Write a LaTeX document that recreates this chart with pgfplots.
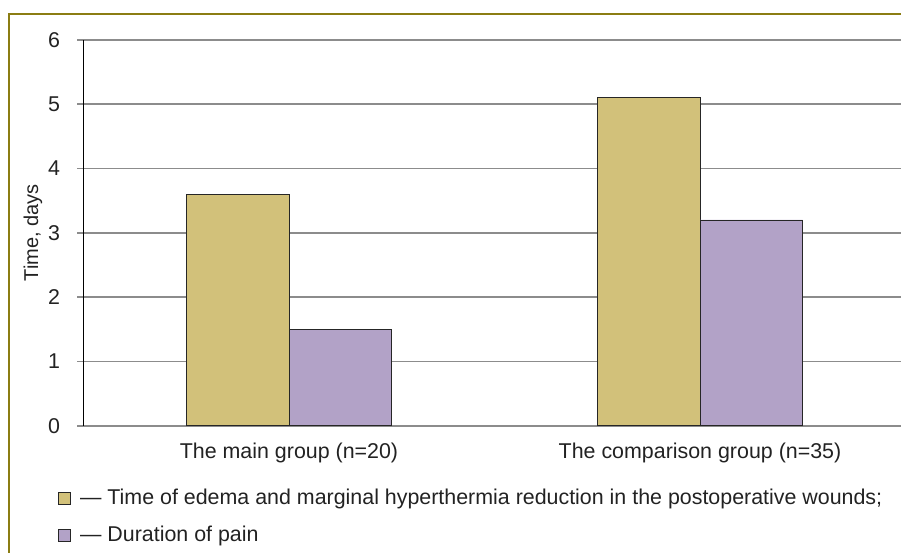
\documentclass[border=0pt]{standalone}
\usepackage{pgfplots}
\pgfplotsset{compat=1.18}
\usepackage{fontspec}
\setmainfont{Liberation Sans}
\definecolor{framec}{HTML}{8B7D13}
\definecolor{barA}{HTML}{D2C17A}
\definecolor{barB}{HTML}{B2A2C7}
\definecolor{gridc}{HTML}{8C8C8C}
\definecolor{txt}{HTML}{222222}
\begin{document}
\begin{tikzpicture}[x=1pt,y=1pt]
\path[use as bounding box] (-83.5,425.7) rectangle (817.5,-126.3);
\clip (-83.5,425.7) rectangle (817.5,-126.3);
\draw[framec, line width=2.5pt] (-74.5,411.7) rectangle (1000,-300);
\begin{axis}[
  scale only axis, width=822pt, height=385.7pt,
  xmin=-0.5, xmax=1.5, ymin=0, ymax=6,
  ybar=0pt, bar width=102.5pt,
  axis x line*=bottom, axis y line*=left,
  x axis line style={draw=gridc, line width=1.8pt, -},
  y axis line style={draw=black, line width=0.9pt, -},
  xtick={0,1},
  xticklabels={The main group (n=20), The comparison group (n=35)},
  major x tick style={draw=none},
  extra x ticks={-0.5,0.5},
  extra x tick labels={},
  extra x tick style={major tick length=6pt, tick align=outside, tick style={draw=gridc, line width=1.8pt}, grid=none},
  ytick={0,1,2,3,4,5,6},
  ymajorgrids,
  grid style={draw=gridc, line width=1.8pt},
  major y tick style={draw=gridc, line width=1.8pt},
  tick align=outside, major tick length=6pt,
  tick label style={font=\fontsize{21.4}{25}\selectfont, text=txt},
  /pgf/number format/assume math mode=true,
  yticklabel style={xshift=-14pt},
  xticklabel style={yshift=-8pt},
  ylabel={Time, days},
  ylabel style={at={(axis description cs:-0.0614,0.5)}, anchor=center, font=\fontsize{20}{24}\selectfont, text=txt},
  legend style={at={(axis description cs:-0.031,-0.163)}, anchor=north west, draw=none, fill=none,
    font=\fontsize{21.4}{25}\selectfont, text=txt, row sep=17pt, inner sep=0pt,
    nodes={inner sep=0pt, anchor=west, text height=15.5pt, text depth=4.5pt}},
  legend cell align=left,
  legend image code/.code={\draw[#1, draw=black!85, line width=0.9pt] (0pt,-6pt) rectangle (12pt,6pt);},
]
\addplot[fill=barA, draw=black!85, line width=0.9pt] coordinates {(0,3.6) (1,5.1)};
\addplot[fill=barB, draw=black!85, line width=0.9pt] coordinates {(0,1.5) (1,3.2)};
\legend{\hspace{9pt}--- Time of edema and marginal hyperthermia reduction in the postoperative wounds;, \hspace{9pt}--- Duration of pain}
\end{axis}
\end{tikzpicture}
\end{document}
